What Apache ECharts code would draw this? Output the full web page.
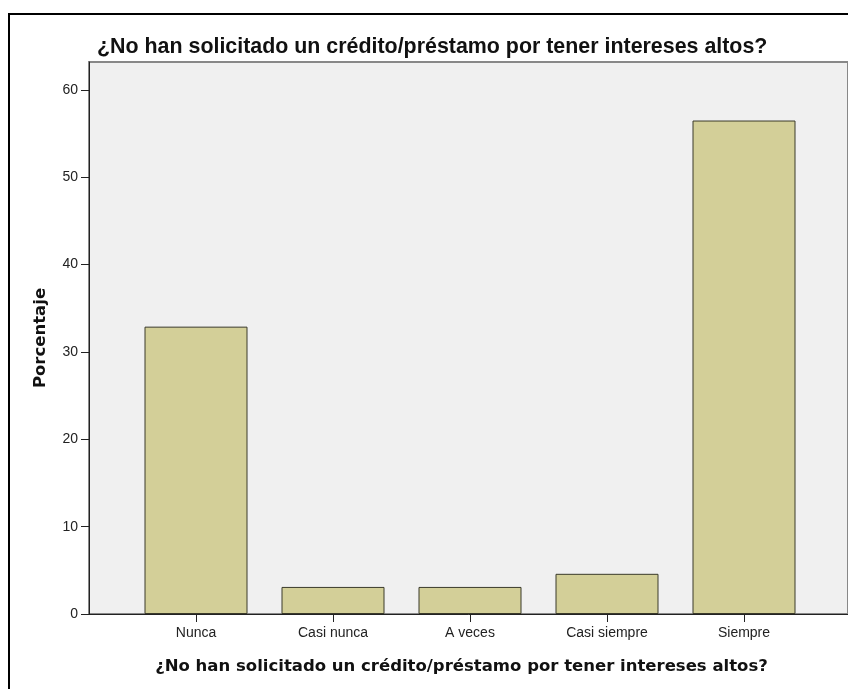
<!DOCTYPE html>
<html>
<head>
<meta charset="utf-8">
<script src="https://cdn.jsdelivr.net/npm/echarts@6/dist/echarts.min.js"></script>
<style>
html,body{margin:0;padding:0;background:#fff;overflow:hidden;}
#chart{position:absolute;left:0;top:0;width:848px;height:689px;}
#frame{position:absolute;left:8px;top:13px;width:860px;height:700px;border:2px solid #000;pointer-events:none;box-sizing:border-box;}
</style>
</head>
<body>
<div id="chart"></div>
<div id="frame"></div>
<script>
const titleText = "¿No han solicitado un crédito/préstamo por tener intereses altos?";
const categories = ["Nunca", "Casi nunca", "A veces", "Casi siempre", "Siempre"];
const percentages = [32.9, 3.1, 3.1, 4.6, 56.5];
const yTicks = [0, 10, 20, 30, 40, 50, 60];
const yAxisName = "Porcentaje";

const chart = echarts.init(document.getElementById('chart'), null, {renderer: 'canvas'});
const plotTop = 62, plotBottom = 614;
const tickFont = 'Liberation Sans, Arial, sans-serif';
chart.setOption({
  animation: false,
  backgroundColor: '#fff',
  title: {
    text: titleText,
    left: 97, top: 37, padding: 0,
    textStyle: {fontFamily: 'Liberation Sans, Arial, sans-serif', fontWeight: 'bold', fontSize: 21.4, color: '#111'}
  },
  grid: [
    {left: 89, top: plotTop, width: 765, height: plotBottom - plotTop, show: true, backgroundColor: '#f0f0f0', borderColor: '#888', borderWidth: 2, containLabel: false},
    {left: 127.5, top: plotTop, width: 685, height: plotBottom - plotTop, containLabel: false}
  ],
  xAxis: [
    {gridIndex: 0, type: 'value', min: 0, max: 1, axisLine: {show: true, onZero: false, lineStyle: {color: '#222', width: 1}}, axisTick: {show: false}, axisLabel: {show: false}, splitLine: {show: false},
     name: titleText, nameLocation: 'middle', nameGap: 44,
     nameTextStyle: {fontFamily: 'DejaVu Sans, Verdana, sans-serif', fontWeight: 'bold', fontSize: 16.5, color: '#111', padding: [0, 14, 0, 0]}},
    {gridIndex: 1, type: 'category', data: categories, boundaryGap: true,
     axisLine: {show: false}, axisTick: {show: true, alignWithLabel: true, length: 8, lineStyle: {color: '#222'}},
     axisLabel: {margin: 12, fontFamily: tickFont, fontSize: 14, color: '#222'}}
  ],
  yAxis: [
    {gridIndex: 0, type: 'value', min: 0, max: 63.2,
     axisLine: {show: true, lineStyle: {color: '#222', width: 1}},
     axisTick: {show: true, length: 8, customValues: yTicks, lineStyle: {color: '#222'}},
     axisLabel: {margin: 11, customValues: yTicks, fontFamily: tickFont, fontSize: 14, color: '#222', padding: [6, 0, 0, 0]},
     splitLine: {show: false},
     name: yAxisName, nameLocation: 'middle', nameGap: 40, nameRotate: 90,
     nameTextStyle: {fontFamily: 'DejaVu Sans, Verdana, sans-serif', fontWeight: 'bold', fontSize: 16.5, color: '#111'}},
    {gridIndex: 1, type: 'value', min: 0, max: 63.2, show: false, splitLine: {show: false}}
  ],
  series: [{
    type: 'bar', xAxisIndex: 1, yAxisIndex: 1,
    data: percentages, barWidth: 103,
    itemStyle: {color: '#d3cf98', borderColor: '#3a3a2a', borderWidth: 1}
  }]
});
</script>
</body>
</html>
